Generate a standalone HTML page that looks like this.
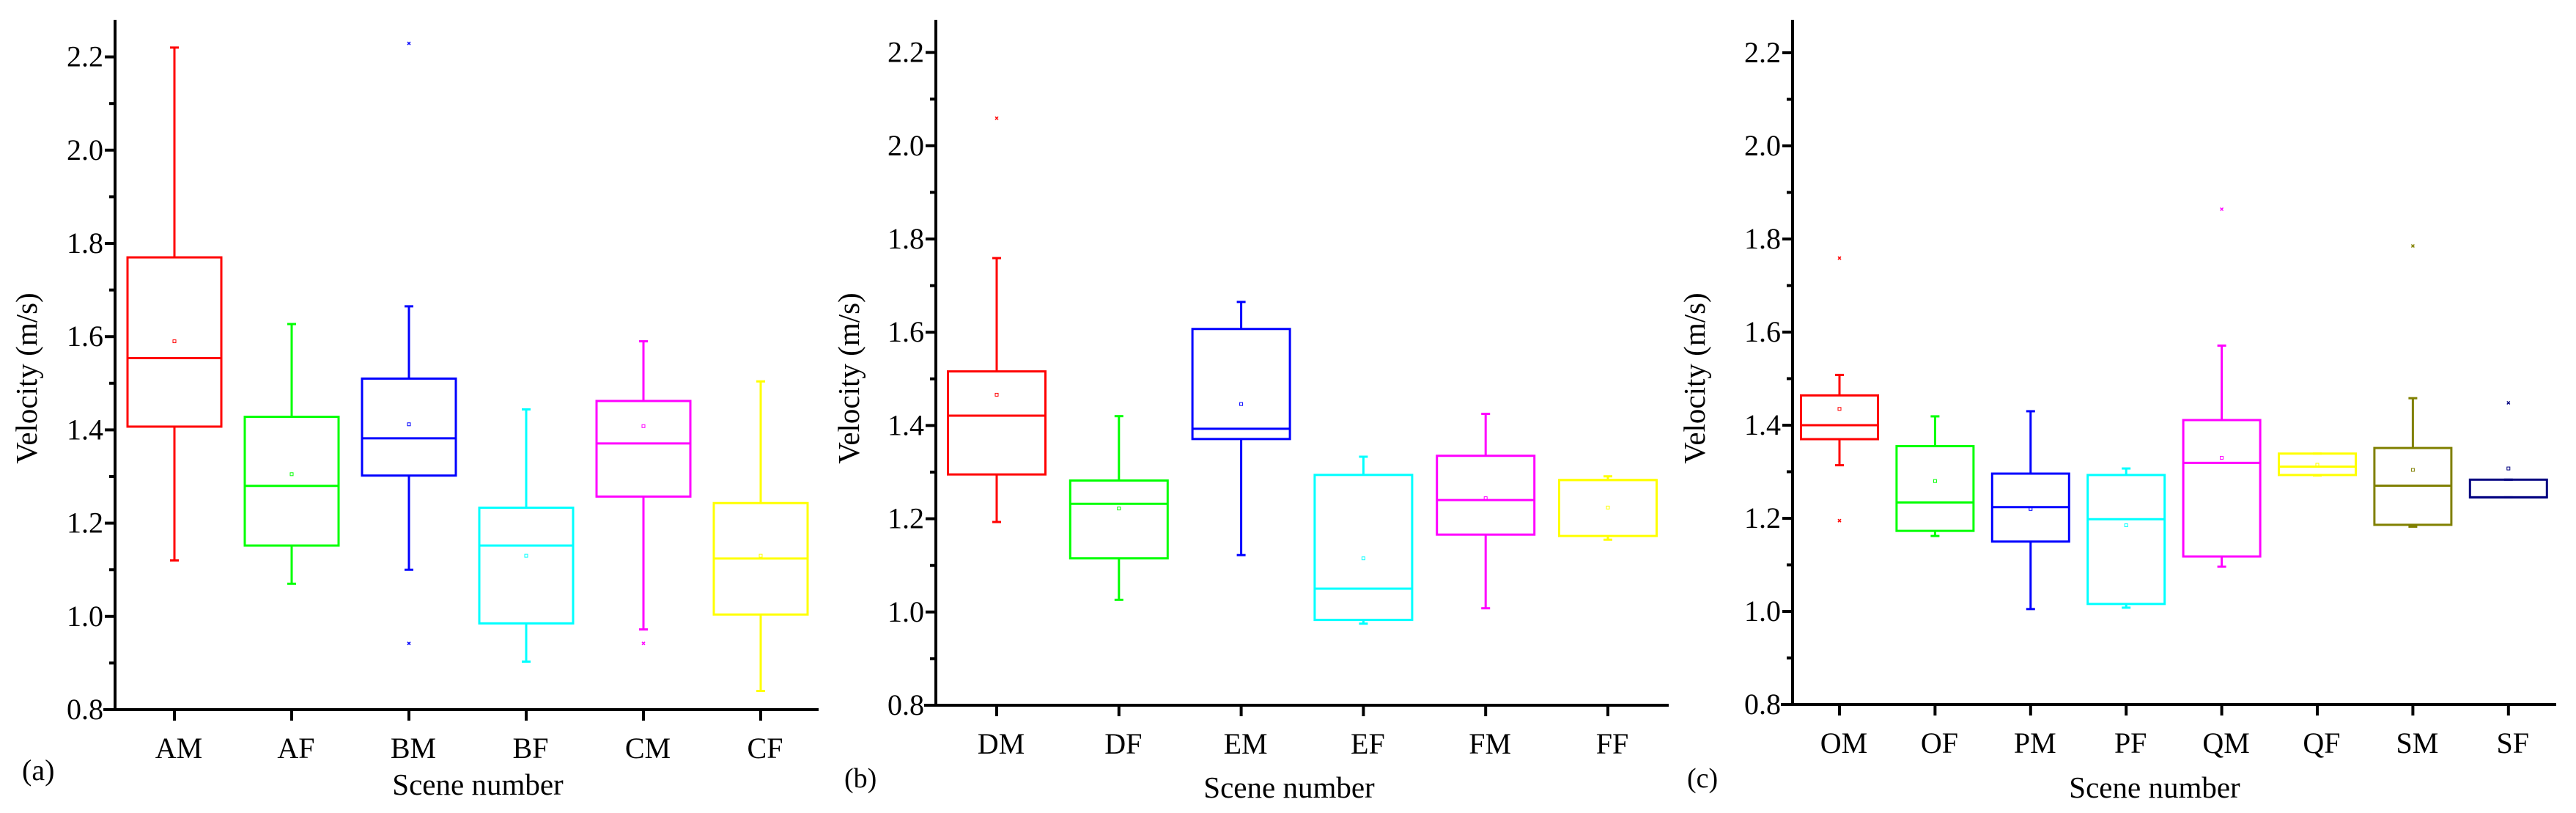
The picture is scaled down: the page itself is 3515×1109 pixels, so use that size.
<!DOCTYPE html>
<html><head><meta charset="utf-8"><style>
html,body{margin:0;padding:0;background:#fff;}
svg{display:block;}
text{font-family:"Liberation Serif",serif;fill:#000;}
</style></head><body>
<svg id="chart" width="3515" height="1109" viewBox="0 0 3515 1109" xmlns="http://www.w3.org/2000/svg"></svg>
<script>
// Panel (a)
const catsA = ["AM","AF","BM","BF","CM","CF"];
const colorsA = ["#ff0000","#00ff00","#0000ff","#00ffff","#ff00ff","#ffff00"];
const lowA = [1.12,1.07,1.10,0.903,0.972,0.84];
const q1A = [1.407,1.152,1.302,0.985,1.257,1.004];
const medA = [1.554,1.28,1.382,1.152,1.371,1.124];
const q3A = [1.77,1.428,1.51,1.233,1.462,1.243];
const highA = [2.22,1.627,1.665,1.444,1.59,1.504];
const meanA = [1.59,1.305,1.412,1.130,1.408,1.13];
const outA = [[],[],[2.229,0.942],[],[0.942],[]];
// Panel (b)
const catsB = ["DM","DF","EM","EF","FM","FF"];
const colorsB = ["#ff0000","#00ff00","#0000ff","#00ffff","#ff00ff","#ffff00"];
const lowB = [1.193,1.026,1.122,0.975,1.008,1.155];
const q1B = [1.295,1.115,1.371,0.983,1.166,1.163];
const medB = [1.421,1.232,1.393,1.05,1.24,1.283];
const q3B = [1.516,1.282,1.607,1.294,1.335,1.283];
const highB = [1.759,1.42,1.665,1.333,1.425,1.291];
const meanB = [1.466,1.222,1.446,1.115,1.244,1.224];
const outB = [[2.059],[],[],[],[],[]];
// Panel (c)
const catsC = ["OM","OF","PM","PF","QM","QF","SM","SF"];
const colorsC = ["#ff0000","#00ff00","#0000ff","#00ffff","#ff00ff","#ffff00","#808000","#000080"];
const lowC = [1.314,1.162,1.005,1.008,1.096,1.292,1.182,1.245];
const q1C = [1.37,1.173,1.15,1.016,1.118,1.293,1.186,1.245];
const medC = [1.40,1.234,1.224,1.198,1.319,1.311,1.27,1.245];
const q3C = [1.464,1.355,1.296,1.293,1.411,1.339,1.351,1.283];
const highC = [1.508,1.419,1.43,1.307,1.571,1.339,1.458,1.283];
const meanC = [1.435,1.28,1.22,1.185,1.33,1.315,1.304,1.307];
const outC = [[1.759,1.195],[],[],[],[1.864],[],[1.785],[1.448]];
const yTicks = [0.8,1.0,1.2,1.4,1.6,1.8,2.0,2.2];
const yMinorTicks = [0.9,1.1,1.3,1.5,1.7,1.9,2.1];

const SERIF = '"Liberation Serif", serif';
const svg = document.getElementById('chart');
const NS = 'http://www.w3.org/2000/svg';
function mk(tag, attrs, parent){
  const e = document.createElementNS(NS, tag);
  for (const k in attrs) e.setAttribute(k, attrs[k]);
  (parent||svg).appendChild(e);
  return e;
}

function panel(p){
  const g = mk('g', {});
  
  
  const y = v => p.y0 - (v - 0.8) / 0.1 * p.step;
  const x = i => p.c0 + i * p.dx;
  const ya = mk('line', {x1:p.ax, y1:p.top, x2:p.ax, y2:p.y0+2, stroke:'#000','stroke-width':4}, g);
  
  
  const xa = mk('line', {x1:p.ax-16, y1:p.y0, x2:p.xend, y2:p.y0, stroke:'#000','stroke-width':4}, g);
  
  
  yTicks.forEach(v => {
    const t = mk('line', {x1:p.ax-14, y1:y(v), x2:p.ax, y2:y(v), stroke:'#000','stroke-width':4}, g);
    
    
    const l = mk('text', {x:p.ax-16, y:y(v)+13, 'font-size':40, 'text-anchor':'end', 'font-family':SERIF}, g);
    l.textContent = v.toFixed(1);
    
    
  });
  yMinorTicks.forEach(v => {
    const t = mk('line', {x1:p.ax-8, y1:y(v), x2:p.ax, y2:y(v), stroke:'#000','stroke-width':4}, g);
    
    
  });
  p.cats.forEach((c, i) => {
    const cx = x(i), col = p.colors[i], hw = p.bw/2;
    const t = mk('line', {x1:cx, y1:p.y0, x2:cx, y2:p.y0+15, stroke:'#000','stroke-width':4}, g);
    
    
    const l = mk('text', {x:cx+6, y:p.y0+66, 'font-size':40, 'text-anchor':'middle', 'font-family':SERIF}, g);
    l.textContent = c;
    
    
    const bg = mk('g', {stroke:col, fill:'none', 'stroke-width':3}, g);
    
    
    mk('line', {x1:cx, y1:y(p.high[i]), x2:cx, y2:y(p.q3[i])}, bg);
    mk('line', {x1:cx, y1:y(p.low[i]), x2:cx, y2:y(p.q1[i])}, bg);
    mk('line', {x1:cx-6, y1:y(p.high[i]), x2:cx+6, y2:y(p.high[i])}, bg);
    mk('line', {x1:cx-6, y1:y(p.low[i]), x2:cx+6, y2:y(p.low[i])}, bg);
    mk('rect', {x:cx-hw, y:y(p.q3[i]), width:p.bw, height:Math.max(1, y(p.q1[i]) - y(p.q3[i]))}, bg);
    mk('line', {x1:cx-hw, y1:y(p.med[i]), x2:cx+hw, y2:y(p.med[i])}, bg);
    const m = mk('rect', {x:cx-2, y:y(p.mean[i])-2, width:4, height:4, 'stroke-width':1}, bg);
    
    
    p.out[i].forEach(o => {
      const oy = y(o);
      const om = mk('path', {d:`M${cx-2} ${oy-2}L${cx+2} ${oy+2}M${cx+2} ${oy-2}L${cx-2} ${oy+2}`, 'stroke-width':1.5}, bg);
      
      
    });
  });
  const yt = mk('text', {x:p.ytx, y:516, 'font-size':41, 'text-anchor':'middle', 'font-family':SERIF, transform:`rotate(-90 ${p.ytx} 516)`}, g);
  yt.textContent = 'Velocity (m/s)';
  
  
  const xt = mk('text', {x:p.xtx, y:p.xty, 'font-size':41, 'text-anchor':'middle', 'font-family':SERIF}, g);
  xt.textContent = 'Scene number';
  
  
  const pl = mk('text', {x:p.plx, y:p.ply, 'font-size':p.plf, 'font-family':p.plfam}, g);
  pl.textContent = '(' + p.id + ')';
  
  
}

panel({id:'a', cats:catsA, colors:colorsA, low:lowA, q1:q1A, med:medA, q3:q3A, high:highA, mean:meanA, out:outA,
  ax:157, top:27, y0:968, step:63.6, xend:1117, c0:238, dx:160, bw:128, ytx:50, xtx:652, xty:1084, plx:30, ply:1064, plf:40, plfam:SERIF});
panel({id:'b', cats:catsB, colors:colorsB, low:lowB, q1:q1B, med:medB, q3:q3B, high:highB, mean:meanB, out:outB,
  ax:1277, top:27, y0:962, step:63.6, xend:2277, c0:1360, dx:166.8, bw:133, ytx:1172, xtx:1759, xty:1088, plx:1152, ply:1074, plf:38, plfam:'"Liberation Sans", sans-serif'});
panel({id:'c', cats:catsC, colors:colorsC, low:lowC, q1:q1C, med:medC, q3:q3C, high:highC, mean:meanC, out:outC,
  ax:2446, top:27, y0:961, step:63.5, xend:3488, c0:2510, dx:130.4, bw:105, ytx:2326, xtx:2940, xty:1088, plx:2302, ply:1074, plf:38, plfam:'"Liberation Sans", sans-serif'});
</script>
</body></html>
